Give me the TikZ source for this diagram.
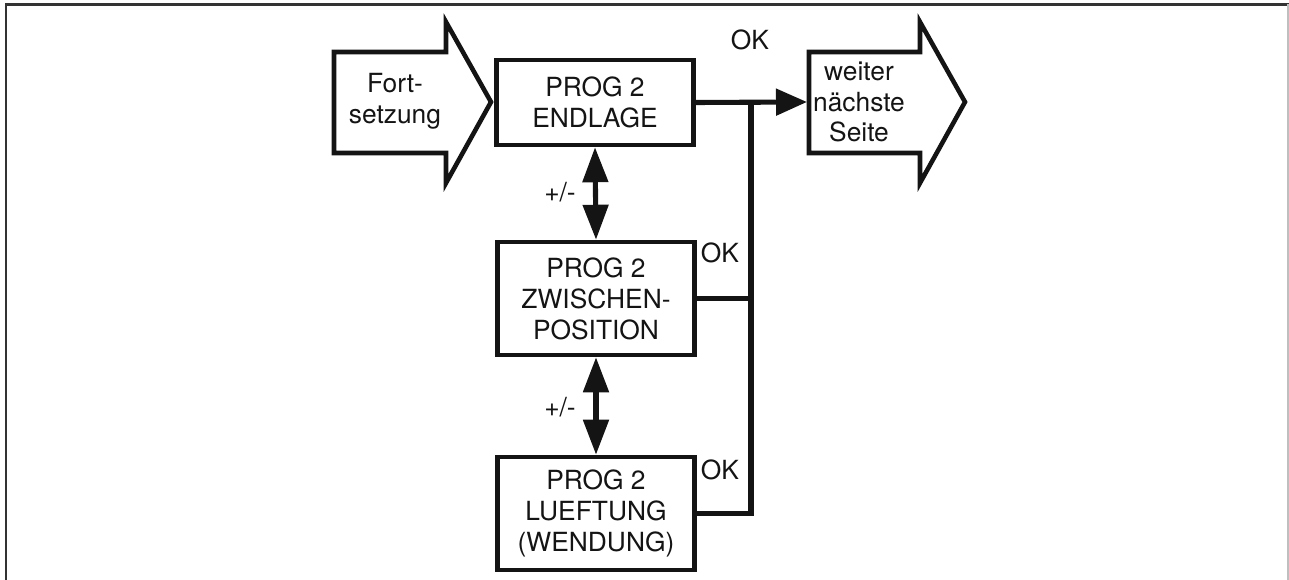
\documentclass[tikz,border=0pt]{standalone}
\usepackage{fontspec}
\setmainfont{TeX Gyre Heros}
\usetikzlibrary{arrows.meta}
\begin{document}
\begin{tikzpicture}[x=0.02cm,y=-0.02cm,
  txt/.style={font=\fontsize{15}{17.6}\selectfont, text=black!92, align=center, inner sep=0pt},
  pbox/.style={draw=black!92, line width=2.6pt, minimum width=3.94cm, inner sep=0pt, txt},
  bigarrow/.style={draw=black!92, line width=2.6pt, line join=miter, miter limit=20},
  conn/.style={draw=black!92, line width=2.9pt},
  tipone/.style={-{Triangle[length=0.62cm, width=0.52cm]}},
  tiptwo/.style={{Triangle[length=0.7cm, width=0.5cm]}-{Triangle[length=0.7cm, width=0.5cm]}},
  frame/.style={draw=black!80, line width=1.7pt}
]
\useasboundingbox (0,0) rectangle (1289,580);
% frame
\draw[frame] (6,580) -- (6,4.5) -- (1289,4.5);
\draw[draw=black!25, line width=0.85pt] (1288,4.5) -- (1288,580);

% big input arrow
\draw[bigarrow] (334,52) -- (446,52) -- (446,22) -- (491,102) -- (446,183) -- (446,153) -- (334,153) -- cycle;
\node[txt] (fort) at (395,101) {Fort-\\setzung};

% big output arrow
\draw[bigarrow] (809,52) -- (920,52) -- (920,22) -- (965,102) -- (920,183) -- (920,153) -- (809,153) -- cycle;
\coordinate (nx) at (807,102);
\node[txt] (weiter) at (859,102) {weiter\\nächste\\Seite};

% boxes
\node[pbox, minimum height=1.7cm] (endlage) at (595,102.5) {PROG 2\\ENDLAGE};
\node[pbox, minimum height=2.26cm] (mid) at (596,298.5) {PROG 2\\ZWISCHEN-\\POSITION};
\node[pbox, minimum height=2.26cm] (bot) at (596,513.5) {PROG 2\\LUEFTUNG\\(WENDUNG)};

% connectors
\coordinate (j1) at (751,102);
\draw[conn, tipone] (endlage.east) -- (nx);
\draw[conn] (j1) |- (bot.east);
\draw[conn] (mid.east) -- (mid.east -| j1);
\draw[conn, tiptwo] (endlage.south) -- (mid.north);
\draw[conn, tiptwo] (mid.south) -- (bot.north);

% labels
\node[txt] (ok1) at (750,40) {OK};
\node[txt] (ok2) at (720,253) {OK};
\node[txt] (ok3) at (720,470) {OK};
\node[txt] (pm1) at (560,192) {+/-};
\node[txt] (pm2) at (560,407) {+/-};
\end{tikzpicture}
\end{document}
